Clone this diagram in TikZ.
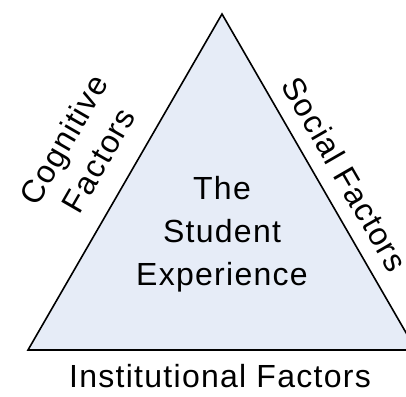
\documentclass[tikz,border=0pt]{standalone}
\usepackage{fontspec}
\setmainfont{Liberation Sans}[LetterSpace=4]
\definecolor{trifill}{RGB}{230,236,247}
\begin{document}
\begin{tikzpicture}[x=1pt,y=1pt,
  lbl/.style={inner sep=0pt,align=center,font=\fontsize{32}{43}\selectfont}]
\useasboundingbox (0,0) rectangle (406,396);
\clip (0,0) rectangle (406,396);
\coordinate (apex) at (222,382);
\coordinate (bl) at (28,46);
\coordinate (br) at (416,46);
\draw[line width=1.6pt,fill=trifill,line join=miter] (apex) -- (bl) -- (br) -- cycle;
\node[lbl] (center) at (222,162) {The\\Student\\Experience};
\node[lbl,anchor=base] (inst) at (220,9) {Institutional Factors};
\node[lbl,rotate=60,font=\fontsize{32}{40}\selectfont] (cog) at (81,246) {Cognitive\\Factors};
\node[lbl,rotate=-60] (soc) at (345,222) {Social Factors};
\end{tikzpicture}
\end{document}
